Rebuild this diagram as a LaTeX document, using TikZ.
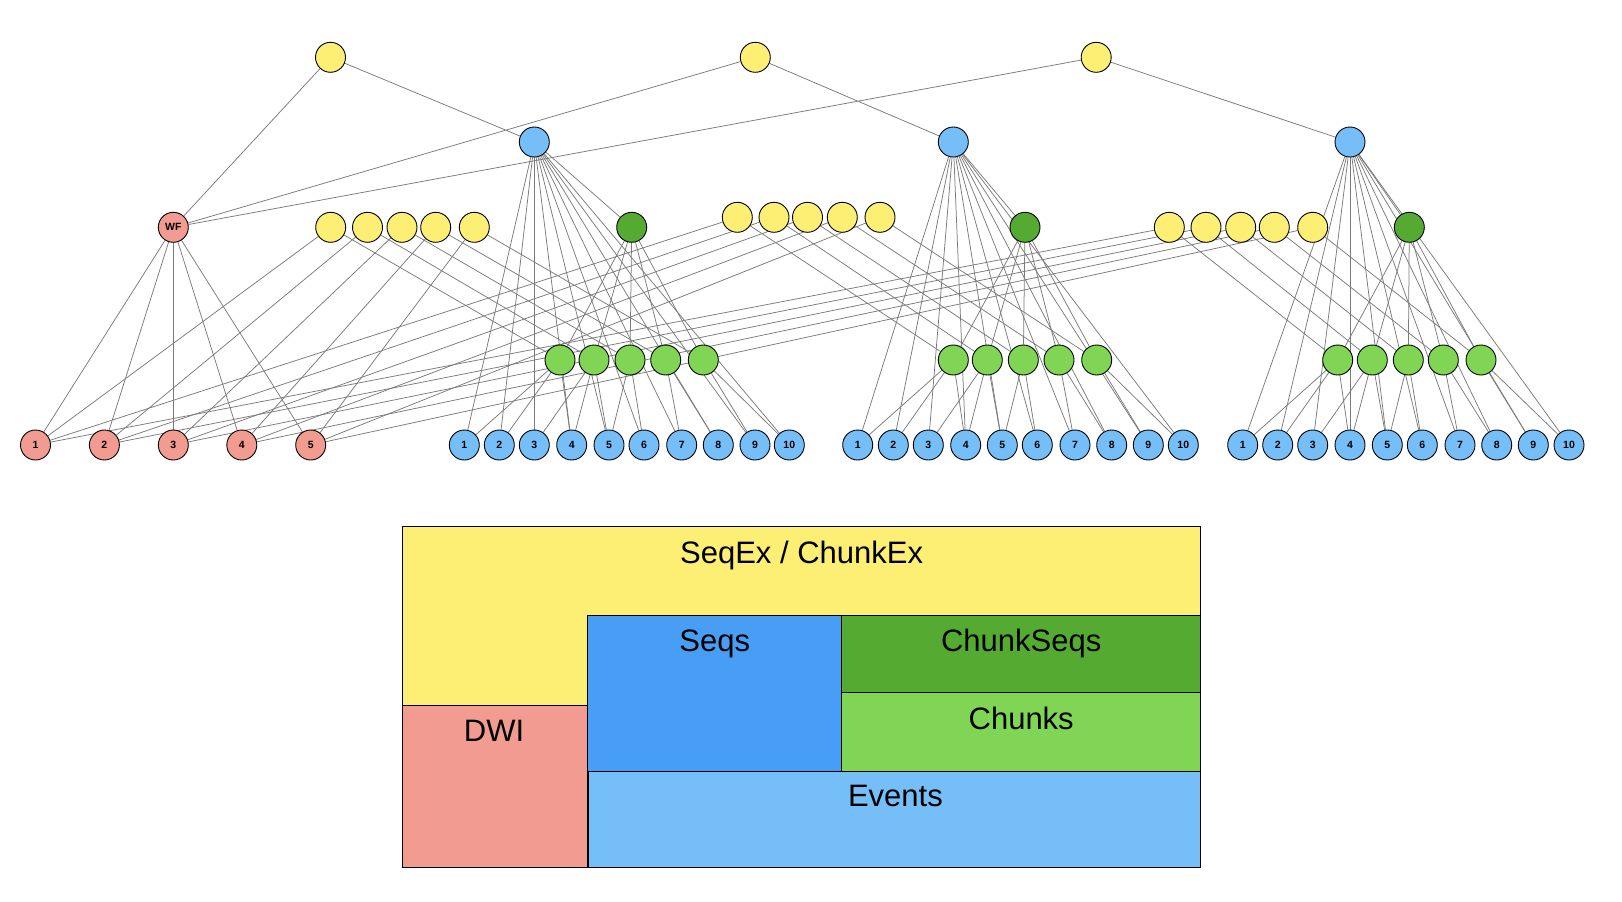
\documentclass[tikz,border=0pt]{standalone}
\usepackage{fontspec}
\setmainfont{Liberation Sans}
\pgfdeclarelayer{bg}
\pgfsetlayers{bg,main}
\definecolor{cyel}{HTML}{FCEF74}
\definecolor{cevt}{HTML}{75BEF8}
\definecolor{cseq}{HTML}{489EF5}
\definecolor{cdgr}{HTML}{55AB32}
\definecolor{clgr}{HTML}{80D654}
\definecolor{cred}{HTML}{F19B91}
\definecolor{cedge}{HTML}{7A7A7A}
\begin{document}
\begin{tikzpicture}[x=1pt,y=-1pt,
  nd/.style={circle,draw=black,line width=0.9pt,minimum size=30pt,inner sep=0pt,font=\bfseries\fontsize{10.5}{11}\selectfont},
  yel/.style={nd,fill=cyel},
  blu/.style={nd,fill=cevt},
  dgr/.style={nd,fill=cdgr},
  lgr/.style={nd,fill=clgr},
  rdn/.style={nd,fill=cred},
  edge/.style={draw=cedge,line width=0.75pt},
  boxline/.style={draw=black,line width=0.9pt},
  boxtext/.style={anchor=base,font=\fontsize{31}{33}\selectfont,inner sep=0pt}]
\useasboundingbox (0,0) rectangle (1622,902);

% top level
\node[yel] (T1) at (330.5,57.3) {};
\node[yel] (T2) at (755.3,57.3) {};
\node[yel] (T3) at (1096.2,57.3) {};
\node[rdn] (WF) at (173.3,227.3) {WF};

\foreach \g/\bx/\gx in {1/534.3/631.7, 2/953.3/1025, 3/1350/1409.3} {
  \node[blu] (B\g) at (\bx,142) {};
  \node[dgr] (G\g) at (\gx,227.3) {};
}

% mid yellow rows
\foreach \x [count=\i] in {330.7,367.5,402,435.7,474.3} \node[yel] (Y1-\i) at (\x,227.3) {};
\foreach \x [count=\i] in {737.3,774,807.5,842.3,880} \node[yel] (Y2-\i) at (\x,217.3) {};
\foreach \x [count=\i] in {1169.3,1206,1240.7,1274.3,1312.7} \node[yel] (Y3-\i) at (\x,227.3) {};

% light green rows
\foreach \x [count=\i] in {560,594,630,665.7,703.3} \node[lgr] (L1-\i) at (\x,360) {};
\foreach \x [count=\i] in {953.3,987.3,1023.3,1059,1096.7} \node[lgr] (L2-\i) at (\x,360) {};
\foreach \x [count=\i] in {1337.7,1372.3,1408.3,1443.3,1481} \node[lgr] (L3-\i) at (\x,360) {};

% events
\foreach \x [count=\i] in {464.3,499.3,534.3,571.7,609,644,681.7,718.3,755,789.3} \node[blu] (E1-\i) at (\x,445) {\i};
\foreach \x [count=\i] in {857.7,893.3,928.3,965.7,1002.3,1037.3,1075,1111.7,1148.3,1183.3} \node[blu] (E2-\i) at (\x,445) {\i};
\foreach \x [count=\i] in {1242.7,1277.7,1312.7,1350,1387.3,1422.3,1460,1496.7,1533.3,1569} \node[blu] (E3-\i) at (\x,445) {\i};

% DWI items
\foreach \x [count=\i] in {35.5,104.4,173.3,241.8,310.7} \node[rdn] (R\i) at (\x,445) {\i};

\begin{pgfonlayer}{bg}
  \draw[edge] (T1)--(WF) (T1)--(B1) (T2)--(WF) (T2)--(B2) (T3)--(WF) (T3)--(B3);
  \foreach \i in {1,...,5} \draw[edge] (WF)--(R\i);
  \foreach \g in {1,2,3} {
    \draw[edge] (B\g)--(G\g);
    \foreach \i in {1,...,10} \draw[edge] (B\g)--(E\g-\i);
    \foreach \i in {1,...,5} {
      \draw[edge] (G\g)--(L\g-\i);
      \draw[edge] (Y\g-\i)--(R\i);
      \draw[edge] (Y\g-\i)--(L\g-\i);
    }
    \foreach \a/\b in {1/1,1/2,1/4,2/3,2/4,2/5,3/5,3/6,4/7,4/8,5/9,5/10}
      \draw[edge] (L\g-\a)--(E\g-\b);
  }
\end{pgfonlayer}

% legend boxes
\draw[boxline,fill=cyel] (402.5,526.7) rectangle (1200.7,867.3);
\draw[boxline,fill=cred] (402.5,705.7) rectangle (587.3,867.3);
\draw[boxline,fill=cseq] (587.3,615.7) rectangle (841.2,771);
\draw[boxline,fill=cdgr] (841.2,615.7) rectangle (1200.7,692.7);
\draw[boxline,fill=clgr] (841.2,692.7) rectangle (1200.7,771);
\draw[boxline,fill=cevt] (588.4,771) rectangle (1200.7,867.3);

\node[boxtext] (tseqex) at (801.6,563.3) {SeqEx / ChunkEx};
\node[boxtext] (tseqs) at (714.8,651.7) {Seqs};
\node[boxtext] (tchs) at (1021.2,651.7) {ChunkSeqs};
\node[boxtext] (tchk) at (1021.2,729) {Chunks};
\node[boxtext] (tdwi) at (494.1,741) {DWI};
\node[boxtext] (tevt) at (895.4,806.7) {Events};
\end{tikzpicture}
\end{document}
